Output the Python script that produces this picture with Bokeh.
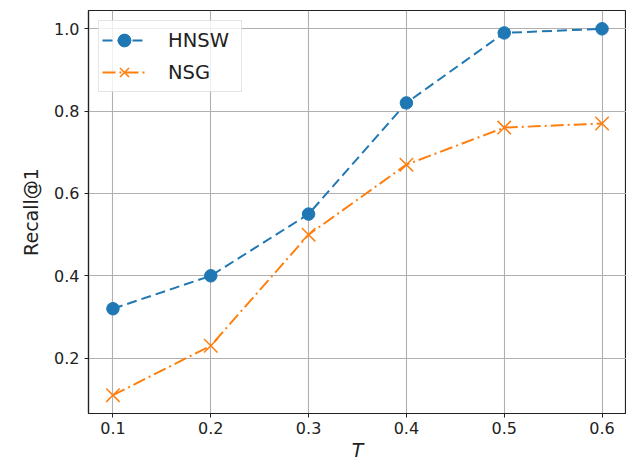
from bokeh.plotting import figure
from bokeh.models import Range1d, FixedTicker, Legend, LegendItem
from bokeh.embed import file_html
from bokeh.resources import INLINE

T = [0.1, 0.2, 0.3, 0.4, 0.5, 0.6]
hnsw = [0.32, 0.40, 0.55, 0.82, 0.99, 1.00]
nsg = [0.11, 0.23, 0.50, 0.67, 0.76, 0.77]
x_ticks = [0.1, 0.2, 0.3, 0.4, 0.5, 0.6]
x_tick_labels = ["0.1", "0.2", "0.3", "0.4", "0.5", "0.6"]
y_ticks = [0.2, 0.4, 0.6, 0.8, 1.0]
y_tick_labels = ["0.2", "0.4", "0.6", "0.8", "1.0"]

FONT = "DejaVu Sans"

p = figure(width=626, height=463, output_backend="svg", toolbar_location=None,
           x_range=Range1d(0.075, 0.625), y_range=Range1d(0.0655, 1.0445),
           min_border_left=88, min_border_right=0, min_border_top=10, min_border_bottom=50)

p.background_fill_color = "white"
p.border_fill_color = "white"
p.outline_line_color = "#222222"
p.outline_line_width = 1.2

for g in (p.xgrid, p.ygrid):
    g.grid_line_color = "#b0b0b0"
    g.grid_line_width = 1.1

p.xaxis.ticker = FixedTicker(ticks=x_ticks)
p.yaxis.ticker = FixedTicker(ticks=y_ticks)
p.xaxis.major_label_overrides = dict(zip(x_ticks, x_tick_labels))
p.yaxis.major_label_overrides = dict(zip(y_ticks, y_tick_labels))

for ax in (p.xaxis[0], p.yaxis[0]):
    ax.axis_line_color = "#222222"
    ax.axis_line_width = 1.2
    ax.major_tick_line_color = "#222222"
    ax.major_tick_out = 4
    ax.major_tick_in = 0
    ax.minor_tick_line_color = None
    ax.major_label_text_font = FONT
    ax.major_label_text_font_size = "16px"
    ax.major_label_text_color = "#222222"
    ax.axis_label_text_font = FONT
    ax.axis_label_text_font_size = "19px"
    ax.axis_label_text_font_style = "normal"
    ax.axis_label_text_color = "#222222"
    ax.major_label_standoff = 5

p.xaxis.major_label_standoff = 4
p.xaxis.axis_label = "T"
p.xaxis.axis_label_text_font_style = "italic"
p.xaxis.axis_label_standoff = 2
p.yaxis.axis_label = "Recall@1"
p.yaxis.axis_label_standoff = 9

c1 = "#1f77b4"
c2 = "#ff7f0e"
l1 = p.line(T, hnsw, line_color=c1, line_width=2, line_dash="10 5")
m1 = p.scatter(T, hnsw, marker="circle", size=12.5, fill_color=c1, line_color=c1)
l2 = p.line(T, nsg, line_color=c2, line_width=2, line_dash="13 4 2 4")
m2 = p.scatter(T, nsg, marker="x", size=19, line_color=c2, line_width=1.5)

legend = Legend(items=[LegendItem(label="HNSW", renderers=[l1, m1]),
                       LegendItem(label="NSG", renderers=[l2, m2])],
                location="top_left")
legend.margin = 10
legend.padding = 3
legend.spacing = 0
legend.glyph_width = 44
legend.glyph_height = 32
legend.label_standoff = 22
legend.label_height = 22
legend.label_width = 70
legend.label_text_font = FONT
legend.label_text_font_size = "19.5px"
legend.label_text_color = "#222222"
legend.border_line_color = "#cccccc"
legend.border_line_width = 1
legend.background_fill_alpha = 0.8
p.add_layout(legend)

open("out.html", "w").write(file_html(p, INLINE))
